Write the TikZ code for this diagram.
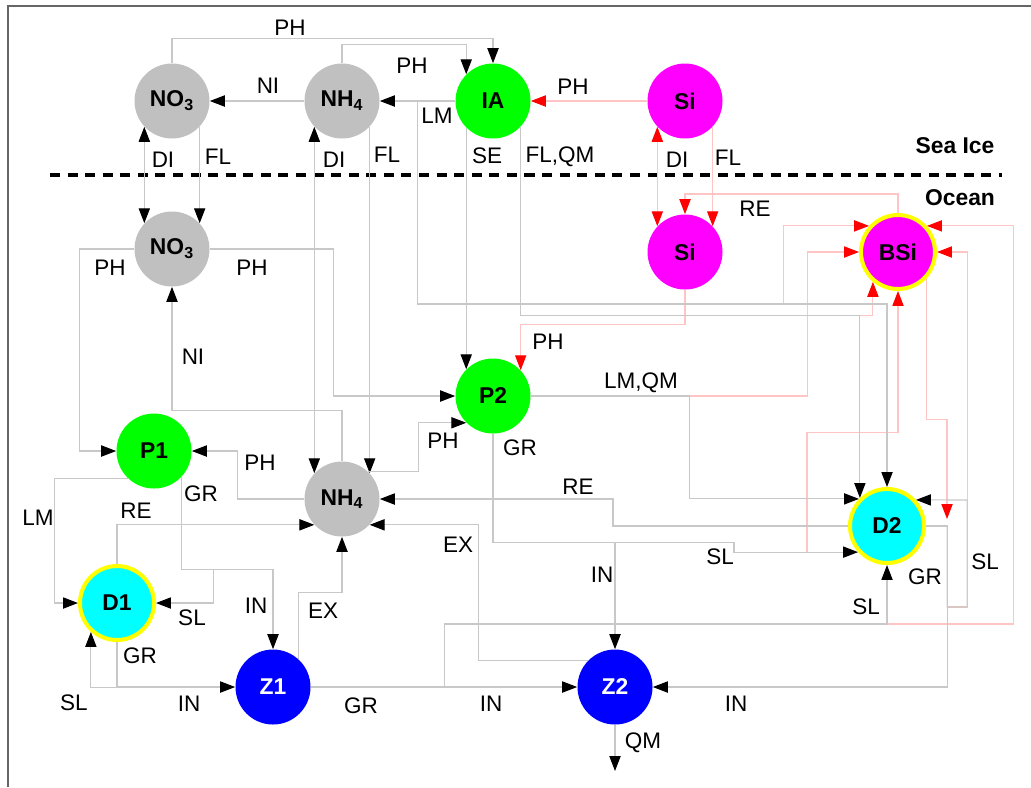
\documentclass[tikz,border=0pt]{standalone}
\usepackage{fontspec}
\setmainfont{Liberation Sans}
\usepackage{xcolor}
\usepackage{tikz}
\usetikzlibrary{arrows.meta}
\definecolor{custom_gray}{HTML}{C0C0C0}
\definecolor{custom_green}{HTML}{00FF00}
\definecolor{custom_magenta}{HTML}{FF00FF}
\definecolor{custom_cyan}{HTML}{00FFFF}
\definecolor{custom_blue}{HTML}{0000FF}
\definecolor{custom_yellow}{HTML}{FFFF00}
\definecolor{line_gray}{HTML}{C8C8C8}
\definecolor{line_red}{HTML}{FFC4C4}
\definecolor{frame_gray}{HTML}{666666}

\begin{document}
\begin{tikzpicture}[x=0.2mm, y=-0.2mm,
  >={Triangle[length=8.5pt,width=6.4pt,color=black]},
  every node/.style={font=\fontsize{12.8}{15}\selectfont},
  pool/.style={circle, minimum size=15mm, inner sep=0pt, font=\fontsize{13}{15}\selectfont\bfseries},
  nut/.style={pool, fill=custom_gray},
  phyto/.style={pool, fill=custom_green},
  sil/.style={pool, fill=custom_magenta},
  det/.style={pool, minimum size=14.8mm, fill=custom_cyan, draw=custom_yellow, line width=2.3pt},
  detsi/.style={det, fill=custom_magenta},
  zoo/.style={pool, fill=custom_blue, text=white},
  zone/.style={font=\fontsize{13}{15}\selectfont\bfseries},
  gflow/.style={draw=line_gray, line width=0.6pt, ->},
  rflow/.style={draw=line_red, line width=0.6pt, >={Triangle[length=8.5pt,width=6.4pt,color=red]}, ->}]

  \useasboundingbox (0,0) rectangle (1031,787);
  \draw[frame_gray, line width=1.1pt] (8,787) -- (8,6) -- (1031,6);
  \draw[line width=2pt, dash pattern=on 5.7pt off 4.3pt] (50,175) -- (1002,175);
  \node[zone] (seaice) at (955,146) {Sea Ice};
  \node[zone] (ocean) at (960,198) {Ocean};

  \node[nut] (NO3i) at (172,101) {NO\textsubscript{3}};
  \node[nut] (NH4i) at (342,101) {NH\textsubscript{4}};
  \node[phyto] (IA) at (493,101) {IA};
  \node[sil] (Sii) at (685,101) {Si};
  \node[nut] (NO3o) at (172,249) {NO\textsubscript{3}};
  \node[sil] (Sio) at (685,252) {Si};
  \node[detsi] (BSi) at (898,252) {BSi};
  \node[phyto] (P2) at (493,396) {P2};
  \node[phyto] (P1) at (154,451) {P1};
  \node[nut] (NH4o) at (342,499) {NH\textsubscript{4}};
  \node[det] (D2) at (887,526) {D2};
  \node[det] (D1) at (117,603) {D1};
  \node[zoo] (Z1) at (273,687) {Z1};
  \node[zoo] (Z2) at (615,687) {Z2};
  \coordinate (qmout) at (615,771);
  \coordinate (bsiout) at (947,519);

  \draw[rflow] (Sii.west) -- (IA.east);
  \draw[rflow,<->] (Sii.-137) -- (Sio.137);
  \draw[rflow] (Sii.-43) -- (Sio.43);
  \draw[rflow] (BSi.north) -- ++(0,-19) -| (Sio.north);
  \draw[rflow] (Sio.south) -- ++(0,35) -| (P2.43);
  \draw[rflow] (IA.west) -- ++(-38,0) -- ++(0,203) -- ++(366,0) |- (BSi.138);
  \draw[rflow] (IA.-43) -- ++(0,189) -| (BSi.-130);
  \draw[rflow] (P2.east) -- ++(277,0) |- (BSi.west);
  \draw[rflow] (P2.south) -- ++(0,109) -- ++(241,0) -- ++(0,10) -- ++(73,0) -- ++(0,-120) -| (BSi.south);
  \draw[rflow] (Z1.east) -- ++(134,0) -- ++(0,-63) -- ++(569,0) |- (BSi.42);
  \draw[rflow] (D2.east) -- ++(21,0) -- ++(0,81) -| ++(20,-107) |- (BSi.east);
  \draw[rflow] (BSi.-44) -- ++(0,140) -| (bsiout);

  \draw[gflow] (NO3i.north) -- ++(0,-25) -| (IA.north);
  \draw[gflow] (NH4i.north) -- ++(0,-19) -| (IA.135);
  \draw[gflow] (NH4i.west) -- (NO3i.east);
  \draw[gflow] (IA.west) -- (NH4i.east);
  \draw[gflow,<->] (NO3i.-137) -- (NO3o.137);
  \draw[gflow] (NO3i.-43) -- (NO3o.43);
  \draw[gflow,<->] (NH4i.-137) -- (NH4o.137);
  \draw[gflow] (NH4i.-43) -- (NH4o.43);
  \draw[gflow] (IA.225) -- (P2.135);
  \draw[gflow] (IA.west) -- ++(-38,0) -- ++(0,203) -| (D2.north);
  \draw[gflow] (IA.-43) -- ++(0,189) -| (D2.134);

  \draw[gflow] (NO3o.west) -- ++(-55,0) |- (P1.west);
  \draw[gflow] (NO3o.east) -- ++(124,0) |- (P2.west);
  \draw[gflow] (NH4o.north) -- ++(0,-51) -| (NO3o.south);
  \draw[gflow] (NH4o.west) -- ++(-67,0) |- (P1.east);
  \draw[gflow] (NH4o.47) -- ++(51,0) |- (P2.-135);

  \draw[gflow] (P1.-43) -- ++(0,93) -| (Z1.north);
  \draw[gflow] (P1.-43) -- ++(0,93) -- ++(32,0) |- (D1.east);
  \draw[gflow] (P1.-133) -- ++(-74,0) |- (D1.west);
  \draw[gflow] (D1.north) |- (NH4o.-137);
  \draw[gflow] (D1.south) |- (Z1.west);
  \draw[gflow] (D1.south) -- ++(0,45) -| (D1.-132);

  \draw[gflow] (Z1.47) -- ++(0,-67) -| (NH4o.south);
  \draw[gflow] (Z1.east) -- (Z2.west);
  \draw[gflow] (Z1.east) -- ++(134,0) -- ++(0,-63) -| (D2.south);
  \draw[gflow] (Z2.south) -- (qmout);
  \draw[gflow] (Z2.135) -- ++(-110,0) |- (NH4o.-43);

  \draw[gflow] (P2.east) -- ++(159,0) |- (D2.136);
  \draw[gflow] (P2.south) -- ++(0,109) -| (Z2.north);
  \draw[gflow] (P2.south) -- ++(0,109) -- ++(241,0) |- (D2.-138);
  \draw[gflow] (D2.west) -- ++(-235,0) |- (NH4o.east);
  \draw[gflow] (D2.east) -| ++(21,161) -- (Z2.east);
  \draw[gflow] (D2.east) -- ++(21,0) -- ++(0,81) -| ++(20,-107) -- (D2.42);

  \node (lph1) at (290,28) {PH};
  \node (lph2) at (412,66) {PH};
  \node (lph3) at (573,87) {PH};
  \node (lni1) at (268,86) {NI};
  \node (llm1) at (437,116) {LM};
  \node (ldi1) at (163,160) {DI};
  \node (lfl1) at (218,157) {FL};
  \node (ldi2) at (334,160) {DI};
  \node (lfl2) at (387,155) {FL};
  \node (lse) at (487,156) {SE};
  \node (lflqm) at (560,157) {FL,QM};
  \node (ldi3) at (677,160) {DI};
  \node (lfl3) at (728,158) {FL};
  \node (lre1) at (755,209) {RE};
  \node (lph4) at (110,268) {PH};
  \node (lph5) at (252,268) {PH};
  \node (lni2) at (193,357) {NI};
  \node (lph6) at (548,342) {PH};
  \node (llmqm) at (641,383) {LM,QM};
  \node (lph7) at (443,441) {PH};
  \node (lgr1) at (520,448) {GR};
  \node (lph8) at (260,463) {PH};
  \node (lgr2) at (201,494) {GR};
  \node (lre2) at (136,511) {RE};
  \node (llm2) at (38,518) {LM};
  \node (lre3) at (578,487) {RE};
  \node (lex1) at (458,545) {EX};
  \node (lsl1) at (720,557) {SL};
  \node (lin1) at (602,575) {IN};
  \node (lgr3) at (925,577) {GR};
  \node (lsl2) at (985,562) {SL};
  \node (lin2) at (256,606) {IN};
  \node (lex2) at (323,611) {EX};
  \node (lsl3) at (192,618) {SL};
  \node (lsl4) at (866,607) {SL};
  \node (lgr4) at (140,656) {GR};
  \node (lsl5) at (74,703) {SL};
  \node (lin3) at (189,704) {IN};
  \node (lgr5) at (361,706) {GR};
  \node (lin4) at (491,704) {IN};
  \node (lin5) at (736,704) {IN};
  \node (lqm) at (643,743) {QM};

\end{tikzpicture}
\end{document}
